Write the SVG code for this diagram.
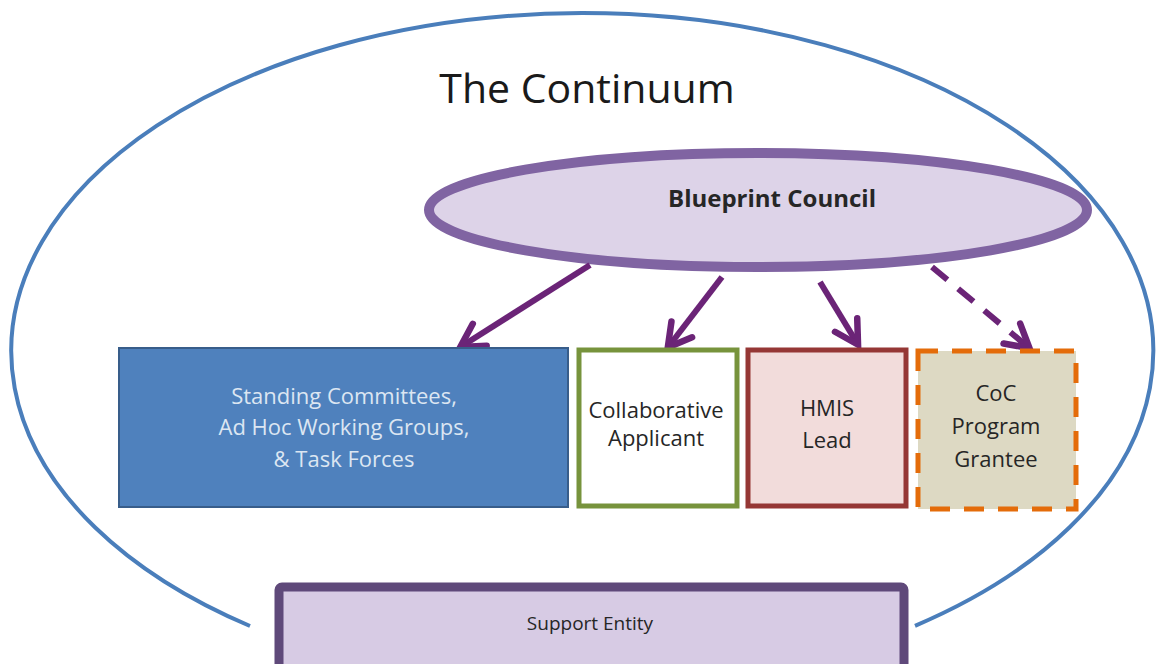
<svg xmlns="http://www.w3.org/2000/svg" width="1159" height="664" viewBox="0 0 1159 664">
  <style>
    text { font-family: "Open Sans", "Liberation Sans", sans-serif; text-anchor: middle; }
    .dark { fill: #262626; }
    .conn { fill: none; stroke: #6b2477; stroke-width: 6; }
    .dashed { stroke-dasharray: 20 14; }
  </style>
  <defs>
    <marker id="arrow" markerUnits="userSpaceOnUse" viewBox="-30 -18 36 36" markerWidth="36" markerHeight="36" refX="-2" refY="0" orient="auto">
      <path d="M-23,-13 L0,0 L-23,13" fill="none" stroke="#6b2477" stroke-width="6.5" stroke-linejoin="miter" stroke-linecap="round"/>
    </marker>
  </defs>
  <rect width="1159" height="664" fill="#ffffff"/>

  <g id="continuum">
    <path d="M 250 626 A 571 338 0 1 1 915 625.8" fill="none" stroke="#4a7ebb" stroke-width="4"/>
    <text x="587" y="103" font-size="41" fill="#1a1a1a">The Continuum</text>
  </g>

  <g id="blueprint-council">
    <ellipse cx="758" cy="210" rx="329" ry="57" fill="#ddd3e8" stroke="#8064a2" stroke-width="10"/>
    <text x="772" y="207" font-size="24" font-weight="bold" class="dark">Blueprint Council</text>
  </g>

  <g id="connectors">
    <line class="conn" x1="590" y1="265" x2="462" y2="346" marker-end="url(#arrow)"/>
    <line class="conn" x1="722" y1="277" x2="669" y2="346" marker-end="url(#arrow)"/>
    <line class="conn" x1="820" y1="282" x2="857" y2="343" marker-end="url(#arrow)"/>
    <line class="conn dashed" x1="932" y1="267" x2="1028" y2="347" marker-end="url(#arrow)"/>
  </g>

  <g id="standing-committees">
    <rect x="119" y="348" width="449" height="159" fill="#4f81bd" stroke="#385d8a" stroke-width="2"/>
    <text x="344" y="404" font-size="22" fill="#dce6f2">Standing Committees,</text>
    <text x="344" y="435" font-size="22" fill="#dce6f2">Ad Hoc Working Groups,</text>
    <text x="344" y="467" font-size="22" fill="#dce6f2">&amp; Task Forces</text>
  </g>

  <g id="collaborative-applicant">
    <rect x="579" y="350" width="158" height="156" fill="#ffffff" stroke="#77933c" stroke-width="5"/>
    <text x="656" y="418" font-size="22" class="dark">Collaborative</text>
    <text x="656" y="446" font-size="22" class="dark">Applicant</text>
  </g>

  <g id="hmis-lead">
    <rect x="748" y="350" width="158" height="156" fill="#f2dcdb" stroke="#953735" stroke-width="5"/>
    <text x="827" y="416" font-size="22" class="dark">HMIS</text>
    <text x="827" y="448" font-size="22" class="dark">Lead</text>
  </g>

  <g id="coc-program-grantee">
    <rect x="918" y="351" width="158" height="158" fill="#ddd9c3" stroke="#e46c0a" stroke-width="5" stroke-dasharray="20 14"/>
    <text x="996" y="401" font-size="22" class="dark">CoC</text>
    <text x="996" y="434" font-size="22" class="dark">Program</text>
    <text x="996" y="467" font-size="22" class="dark">Grantee</text>
  </g>

  <g id="support-entity">
    <rect x="279" y="587" width="625" height="90" rx="3" fill="#d7cbe4" stroke="#5f497a" stroke-width="9"/>
    <text x="590" y="630" font-size="19" class="dark">Support Entity</text>
  </g>
</svg>
